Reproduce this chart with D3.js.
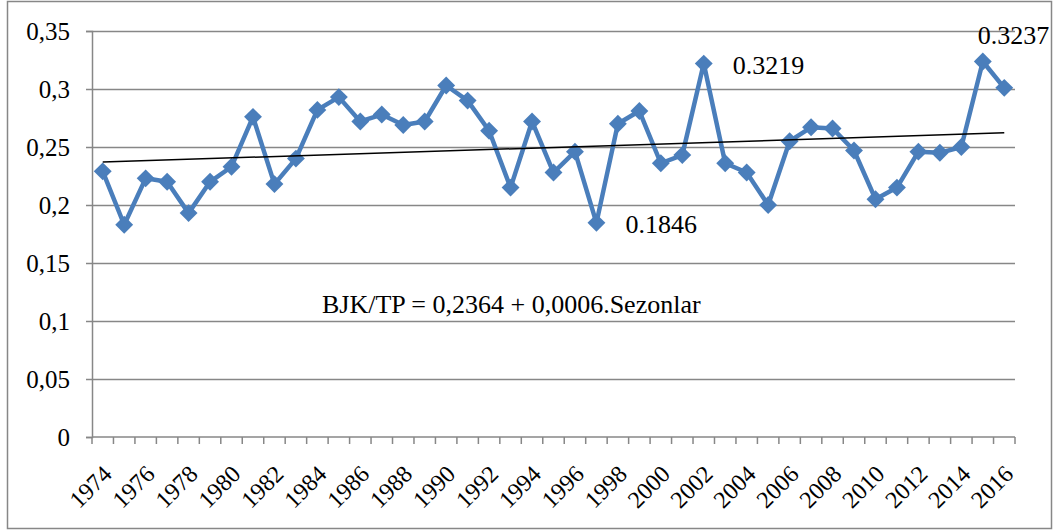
<!DOCTYPE html>
<html>
<head>
<meta charset="utf-8">
<script src="https://cdn.jsdelivr.net/npm/d3@7"></script>
<style>
  body { margin: 0; background: #fff; }
  text { font-family: "Liberation Serif", "Times New Roman", serif; fill: #000; }
</style>
</head>
<body>
<svg id="chart" width="1058" height="532"></svg>
<script>
// data
var years = d3.range(1974, 2017);
var ratio = [0.229, 0.183, 0.223, 0.220, 0.193, 0.220, 0.233, 0.276, 0.218, 0.240,
             0.282, 0.293, 0.272, 0.278, 0.269, 0.272, 0.303, 0.290, 0.264, 0.215,
             0.272, 0.228, 0.246, 0.1846, 0.270, 0.281, 0.236, 0.243, 0.3219, 0.236,
             0.228, 0.200, 0.255, 0.267, 0.266, 0.247, 0.205, 0.215, 0.246, 0.245,
             0.250, 0.3237, 0.301];
var yTicks = [0, 0.05, 0.1, 0.15, 0.2, 0.25, 0.3, 0.35];
var trendA = 0.2364, trendB = 0.0006; // BJK/TP = a + b.Sezonlar
var notes = [{year: 2002, text: "0.3219"}, {year: 2015, text: "0.3237"}, {year: 1997, text: "0.1846"}];

var svg = d3.select("#chart"),
    pLeft = 92, pRight = 1015, pTop = 31, pBottom = 437,
    blue = "#4a7ebb", grid = "#878787",
    serif = "'Liberation Serif', 'Times New Roman', serif";

// outer frame
svg.append("rect").attr("x", 7.5).attr("y", 1.5).attr("width", 1044).attr("height", 527)
    .attr("fill", "none").attr("stroke", grid).attr("stroke-width", 1.5);

var x = d3.scaleBand().domain(years).range([pLeft, pRight]);
var y = d3.scaleLinear().domain([0, 0.35]).range([pBottom, pTop]);
var cx = function (yr) { return x(yr) + x.bandwidth() / 2; };

// horizontal gridlines + y labels
var yAxis = d3.axisLeft(y).tickValues(yTicks).tickSize(6)
    .tickFormat(function (d) { return d3.format(".2~f")(d).replace(".", ","); });
var gy = svg.append("g").attr("transform", "translate(" + pLeft + ",0)").call(yAxis)
    .attr("font-family", serif);
gy.select(".domain").attr("stroke", grid).attr("stroke-width", 1.5);
gy.selectAll(".tick line").attr("stroke", grid).attr("stroke-width", 1.5);
gy.selectAll(".tick").filter(function (d) { return d > 0; }).append("line")
    .attr("x2", pRight - pLeft).attr("stroke", grid).attr("stroke-width", 1.5);
gy.selectAll(".tick text").attr("x", -22).attr("dy", "0.34em").attr("font-size", 25);

// x axis with ticks between categories
var gx = svg.append("g").attr("transform", "translate(0," + pBottom + ")");
gx.append("line").attr("x1", pLeft).attr("x2", pRight).attr("stroke", grid).attr("stroke-width", 1.5);
gx.selectAll("line.tk").data(years.concat([2017])).enter().append("line").attr("class", "tk")
    .attr("x1", function (d) { return d === 2017 ? pRight : x(d); })
    .attr("x2", function (d) { return d === 2017 ? pRight : x(d); })
    .attr("y1", 0).attr("y2", 7).attr("stroke", grid).attr("stroke-width", 1.5);
gx.selectAll("text").data(years.filter(function (d) { return d % 2 === 0; })).enter().append("text")
    .attr("transform", function (d) { return "translate(" + (cx(d) - 1) + ",27) rotate(-45)"; })
    .attr("text-anchor", "end").attr("dy", "0.68em").attr("font-size", 24)
    .text(function (d) { return d; });

// series line and diamond markers
var line = d3.line().x(function (d, i) { return cx(years[i]); }).y(function (d) { return y(d); });
svg.append("path").datum(ratio).attr("d", line).attr("fill", "none")
    .attr("stroke", blue).attr("stroke-width", 4.5).attr("stroke-linejoin", "round");
svg.selectAll("path.mk").data(ratio).enter().append("path").attr("class", "mk")
    .attr("d", d3.symbol().type(d3.symbolSquare).size(160))
    .attr("transform", function (d, i) { return "translate(" + cx(years[i]) + "," + y(d) + ") rotate(45)"; })
    .attr("fill", blue);

// linear trend line
var trend = [years[0], years[years.length - 1]];
svg.append("line")
    .attr("x1", cx(trend[0])).attr("y1", y(trendA + trendB * 1))
    .attr("x2", cx(trend[1])).attr("y2", y(trendA + trendB * years.length))
    .attr("stroke", "#000").attr("stroke-width", 1.5);

// annotations
var pos = {2002: [29, 10], 2015: [-5, -18], 1997: [29, 10]};
svg.selectAll("text.note").data(notes).enter().append("text").attr("class", "note")
    .attr("x", function (d) { return cx(d.year) + pos[d.year][0]; })
    .attr("y", function (d) { return y(ratio[years.indexOf(d.year)]) + pos[d.year][1]; })
    .attr("font-size", 26).text(function (d) { return d.text; });

svg.append("text").attr("x", 322).attr("y", 313).attr("font-size", 26)
    .text("BJK/TP = 0,2364 + 0,0006.Sezonlar");
</script>
</body>
</html>
